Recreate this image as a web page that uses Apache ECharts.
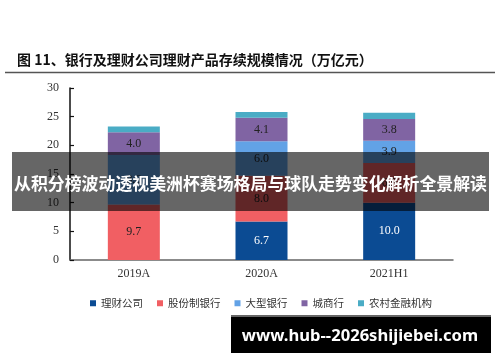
<!DOCTYPE html>
<html>
<head>
<meta charset="utf-8">
<script src="https://cdn.jsdelivr.net/npm/echarts@6/dist/echarts.min.js"></script>
<style>
html,body{margin:0;padding:0;background:#fff;}
#main{width:500px;height:362px;}
</style>
</head>
<body>
<div id="main"></div>
<script>
var categories = ['2019A', '2020A', '2021H1'];
var seriesNames = ['理财公司', '股份制银行', '大型银行', '城商行', '农村金融机构'];
var licai = [null, 6.7, 10.0];
var gufen = [9.7, 8.0, 6.9];
var daxing = [8.6, 6.0, 3.9];
var chengshang = [4.0, 4.1, 3.8];
var nongcun = [1.0, 1.0, 1.1];
var yTicks = [0, 5, 10, 15, 20, 25, 30];
var titleText = '图 11、银行及理财公司理财产品存续规模情况（万亿元）';
var bannerText = '从积分榜波动透视美洲杯赛场格局与球队走势变化解析全景解读';
var watermarkText = 'www.hub--2026shijiebei.com';

var colors = ['#0b4b93', '#f15f63', '#62a2e6', '#8064a3', '#4aacc5'];
var labelColors = ['#ffffff', '#222222', '#222222', '#222222', '#222222'];
var values = [licai, gufen, daxing, chengshang, nongcun];

var chart = echarts.init(document.getElementById('main'), null, {renderer: 'canvas'});

var series = values.map(function (arr, i) {
  return {
    name: seriesNames[i],
    type: 'bar',
    stack: 'total',
    barWidth: 52,
    data: arr,
    itemStyle: {color: colors[i]},
    label: {
      show: i < 4,
      position: 'inside',
      color: labelColors[i],
      fontFamily: 'Liberation Serif',
      fontSize: 12,
      formatter: function (p) { return p.value == null ? '' : p.value.toFixed(1); }
    },
    emphasis: {disabled: true}
  };
});

chart.setOption({
  animation: false,
  color: colors,
  title: {
    text: titleText,
    left: 12,
    top: 48,
    textStyle: {fontFamily: 'Noto Sans CJK SC', fontSize: 14, fontWeight: 'bold', color: '#111'}
  },
  legend: {
    data: seriesNames,
    left: 85,
    top: 293,
    icon: 'rect',
    itemWidth: 6,
    itemHeight: 6,
    itemGap: 14,
    textStyle: {fontFamily: 'Noto Sans CJK SC', fontSize: 10.5, color: '#333'}
  },
  grid: {left: 70, right: 47, top: 88, bottom: 102, containLabel: false},
  xAxis: {
    type: 'category',
    data: categories,
    axisLine: {lineStyle: {color: '#666', width: 1.5}},
    axisTick: {show: false},
    axisLabel: {fontFamily: 'Liberation Serif', fontSize: 12, color: '#333', margin: 8}
  },
  yAxis: {
    type: 'value',
    min: yTicks[0],
    max: yTicks[yTicks.length - 1],
    interval: 5,
    axisLine: {show: true, lineStyle: {color: '#111', width: 1.5}},
    axisTick: {show: true, inside: true, length: 4, lineStyle: {color: '#111', width: 1.2}},
    splitLine: {show: false},
    axisLabel: {fontFamily: 'Liberation Serif', fontSize: 12, color: '#333', margin: 11}
  },
  series: series,
  graphic: [
    {type: 'line', z: 50, shape: {x1: 5, y1: 72.5, x2: 495, y2: 72.5}, style: {stroke: '#555', lineWidth: 1.5}},
    {type: 'rect', z: 100, shape: {x: 12, y: 152, width: 477, height: 59}, style: {fill: 'rgba(0,0,0,0.6)'}},
    {type: 'text', z: 101, x: 250.5, y: 184, style: {text: bannerText, fill: '#fff', fontFamily: 'Noto Sans CJK SC', fontWeight: 'bold', fontSize: 16.9, align: 'center', verticalAlign: 'middle'}},
    {type: 'rect', z: 100, shape: {x: 231, y: 315, width: 260, height: 38}, style: {fill: '#000'}},
    {type: 'rect', z: 101, shape: {x: 231, y: 315, width: 260, height: 2}, style: {fill: '#666'}},
    {type: 'text', z: 102, x: 360, y: 336.5, style: {text: watermarkText, fill: '#fff', fontFamily: 'Noto Sans', fontWeight: 'bold', fontSize: 16.6, align: 'center', verticalAlign: 'middle'}}
  ]
});
</script>
</body>
</html>
